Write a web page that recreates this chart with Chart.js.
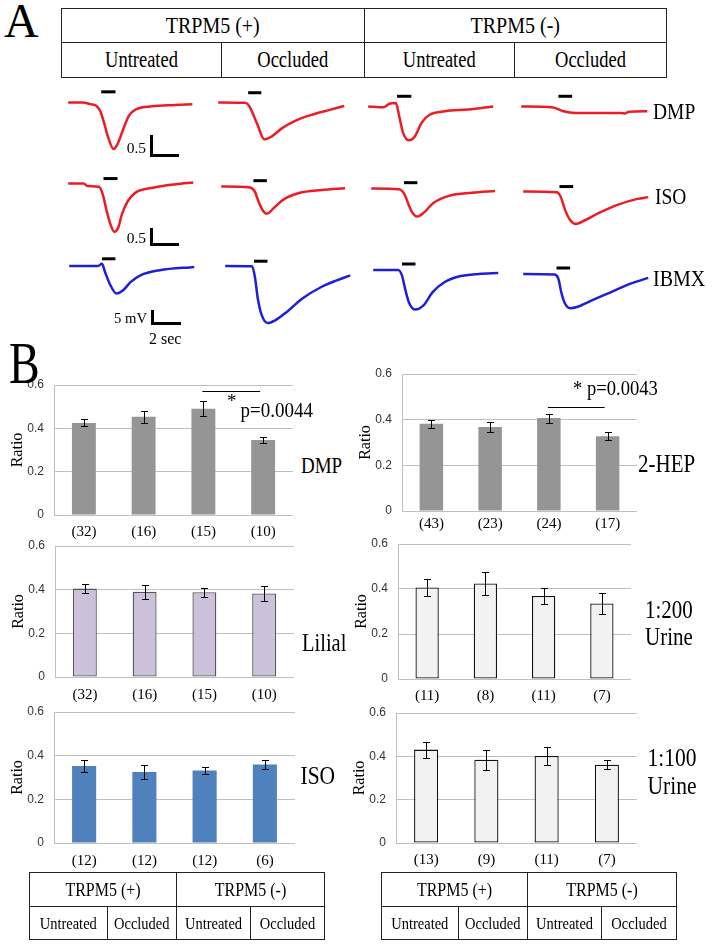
<!DOCTYPE html>
<html>
<head>
<meta charset="utf-8">
<script src="https://cdn.jsdelivr.net/npm/chart.js@4.4.1/dist/chart.umd.min.js"></script>
<style>
    body { margin: 0; background: #fff; }
    #page { position: relative; width: 712px; height: 945px; overflow: hidden; font-family: "Liberation Serif", serif; color: #000; }
    canvas { position: absolute; }
    .t { position: absolute; white-space: nowrap; }
    .t span, .cell span { display: inline-block; }
    .cell { position: absolute; box-sizing: border-box; border: 1px solid #222; display: flex; align-items: center; justify-content: center; }
    .scalebar { position: absolute; box-sizing: border-box; border-left: 3px solid #000; border-bottom: 3px solid #000; }
</style>
</head>
<body>
<div id="page"></div>
<script>
// ---------- Panel A: traces, [time (s), signal] ----------
// red rows in ratio units (0.5 scale bar), blue row in mV
const dmpPlusUntreated = [[0,0],[1.04,0],[1.59,-0.04],[2.0,-0.075],[2.28,-0.19],[2.55,-0.45],[2.82,-0.76],[3.24,-1.06],[3.52,-0.95],[3.93,-0.61],[4.34,-0.30],[4.89,-0.15],[5.99,-0.09],[7.64,-0.06],[8.87,-0.04]];
const dmpPlusOccluded = [[0,0],[1.92,-0.01],[2.2,-0.075],[2.47,-0.25],[2.81,-0.51],[3.29,-0.84],[3.79,-0.78],[4.54,-0.59],[5.49,-0.42],[6.59,-0.29],[7.96,-0.17],[9.0,-0.08]];
const dmpMinusUntreated = [[0,0],[1.09,-0.02],[1.51,0.06],[1.98,0.08],[2.2,-0.2],[2.47,-0.58],[2.88,-0.77],[3.29,-0.70],[3.84,-0.36],[4.39,-0.19],[5.49,-0.11],[7.14,-0.07],[8.93,0]];
const dmpMinusOccluded = [[0,0],[2.2,-0.02],[3.02,-0.11],[3.85,-0.15],[5.5,-0.15],[7.14,-0.15],[7.42,-0.16],[7.69,-0.12],[9.01,-0.11]];

const isoPlusUntreated = [[0,0],[1.1,0],[1.37,-0.06],[2.2,-0.075],[2.47,-0.25],[2.75,-0.63],[3.02,-0.93],[3.29,-1.10],[3.57,-1.01],[3.84,-0.70],[4.26,-0.40],[4.81,-0.21],[6.04,-0.10],[7.69,-0.02],[8.93,0.02]];
const isoPlusOccluded = [[0,0],[1.98,-0.02],[2.39,-0.11],[2.66,-0.34],[2.94,-0.53],[3.26,-0.62],[3.76,-0.49],[4.44,-0.30],[5.55,-0.15],[7.19,-0.08],[8.84,-0.04]];
const isoMinusUntreated = [[0,0],[1.98,-0.02],[2.39,-0.14],[2.66,-0.36],[2.94,-0.55],[3.3,-0.64],[3.76,-0.55],[4.44,-0.33],[5.55,-0.17],[7.19,-0.10],[8.84,-0.06]];
const isoMinusOccluded = [[0,0],[2.39,-0.02],[2.66,-0.11],[2.99,-0.42],[3.35,-0.65],[3.76,-0.74],[4.45,-0.65],[5.41,-0.49],[6.79,-0.30],[8.16,-0.17],[8.93,-0.13]];

const ibmxPlusUntreated = [[0,0],[2.06,0],[2.34,0.77],[2.56,-2.0],[2.89,-5.9],[3.38,-9.2],[3.85,-8.1],[4.4,-5.3],[5.09,-3.1],[6.46,-1.4],[8.93,-0.3]];
const ibmxPlusOccluded = [[0,0],[1.92,-0.1],[2.14,-4.2],[2.33,-10.9],[2.61,-16.4],[3.02,-19.0],[3.57,-18.1],[4.4,-15.3],[5.49,-10.9],[6.86,-7.0],[7.97,-4.8],[8.93,-3.1]];
const ibmxMinusUntreated = [[0,0],[1.79,0],[2.06,-1.9],[2.28,-6.3],[2.55,-10.8],[3.02,-13.2],[3.57,-11.9],[4.25,-7.4],[5.08,-4.1],[6.18,-2.1],[7.55,-1.3],[8.93,-1.0]];
const ibmxMinusOccluded = [[0,0],[2.25,-0.2],[2.52,-1.7],[2.72,-6.1],[2.94,-9.4],[3.35,-11.4],[3.9,-10.9],[4.86,-8.9],[6.24,-6.1],[7.61,-3.3],[8.93,-1.3]];

// stimulus bars: [on (s), off (s), level]
const dmpStim = [[2.36,3.38,0.24],[2.14,3.08,0.22],[2.06,3.08,0.23],[2.66,3.64,0.23]];
const isoStim = [[2.52,3.52,0.11],[2.3,3.26,0.13],[2.34,3.3,0.13],[2.59,3.57,0.11]];
const ibmxStim = [[2.34,3.3,2.4],[2.06,3.02,1.6],[2.06,3.02,2.0],[2.38,3.35,2.0]];

// ---------- Panel B: bar values ----------
const dmpMean = [0.425, 0.453, 0.49, 0.346];
const dmpErr = [0.016, 0.027, 0.035, 0.015];
const dmpN = ['(32)', '(16)', '(15)', '(10)'];

const lilialMean = [0.405, 0.39, 0.388, 0.383];
const lilialErr = [0.022, 0.032, 0.021, 0.033];
const lilialN = ['(32)', '(16)', '(15)', '(10)'];

const isoMean = [0.353, 0.325, 0.332, 0.36];
const isoErr = [0.029, 0.03, 0.014, 0.021];
const isoN = ['(12)', '(12)', '(12)', '(6)'];

const hepMean = [0.382, 0.368, 0.407, 0.327];
const hepErr = [0.017, 0.02, 0.02, 0.017];
const hepN = ['(43)', '(23)', '(24)', '(17)'];

const urine200Mean = [0.407, 0.425, 0.369, 0.336];
const urine200Err = [0.036, 0.052, 0.035, 0.048];
const urine200N = ['(11)', '(8)', '(11)', '(7)'];

const urine100Mean = [0.431, 0.384, 0.402, 0.361];
const urine100Err = [0.037, 0.047, 0.042, 0.02];
const urine100N = ['(13)', '(9)', '(11)', '(7)'];

const yTicks = [0, 0.2, 0.4, 0.6];

const page = document.getElementById("page");
const SERIF = "Liberation Serif";
const SANS = "Liberation Sans";

const addText = (text, x, y, size, opts = {}) => {
    const d = document.createElement("div");
    d.className = "t";
    d.style.fontSize = size + "px";
    d.style.lineHeight = size + "px";
    d.style.top = (y - size / 2) + "px";
    if (opts.right !== undefined) {
        d.style.right = (712 - opts.right) + "px";
    } else {
        d.style.left = x + "px";
    }
    d.innerHTML = `<span style="transform:scaleY(${opts.stretch || 1})">${text}</span>`;
    page.appendChild(d);
};

const addCell = (x0, x1, y0, y1, text, size, stretch) => {
    const d = document.createElement("div");
    d.className = "cell";
    d.style.left = x0 + "px";
    d.style.top = y0 + "px";
    d.style.width = (x1 - x0 + 1) + "px";
    d.style.height = (y1 - y0 + 1) + "px";
    d.innerHTML = `<span style="font-size:${size}px;transform:scaleY(${stretch})">${text}</span>`;
    page.appendChild(d);
};

const addTable = (x0, x1, y0, ym, y1, cols, big, small, stretch) => {
    const mid = cols[1];
    addCell(x0, mid, y0, ym, "TRPM5 (+)", big, stretch);
    addCell(mid, x1, y0, ym, "TRPM5 (-)", big, stretch);
    const xs = [x0, ...cols, x1];
    ["Untreated", "Occluded", "Untreated", "Occluded"].forEach((t, i) => {
        addCell(xs[i], xs[i + 1], ym, y1, t, small, stretch);
    });
};

const addCanvas = (left, top, w, h) => {
    const c = document.createElement("canvas");
    c.width = w;
    c.height = h;
    c.style.left = left + "px";
    c.style.top = top + "px";
    page.appendChild(c);
    return c;
};

// error bars + significance line, read from dataset
Chart.register({
    id: "errorBars",
    afterDatasetsDraw(chart) {
        const ds = chart.data.datasets[0];
        if (!ds.errors) return;
        const { ctx } = chart;
        const y = chart.scales.y;
        const x = chart.scales.x;
        const meta = chart.getDatasetMeta(0);
        ctx.save();
        ctx.strokeStyle = "#000";
        ctx.lineWidth = 1;
        meta.data.forEach((bar, i) => {
            const bx = Math.round(bar.x) + 0.5;
            const yt = Math.round(y.getPixelForValue(ds.data[i] + ds.errors[i])) + 0.5;
            const yb = Math.round(y.getPixelForValue(ds.data[i] - ds.errors[i])) + 0.5;
            ctx.beginPath();
            ctx.moveTo(bx, yt); ctx.lineTo(bx, yb);
            ctx.moveTo(bx - 3.5, yt); ctx.lineTo(bx + 3.5, yt);
            ctx.moveTo(bx - 3.5, yb); ctx.lineTo(bx + 3.5, yb);
            ctx.stroke();
        });
        if (ds.sig) {
            const sy = Math.round(y.getPixelForValue(ds.sig.value)) + 0.5;
            ctx.beginPath();
            ctx.moveTo(x.getPixelForValue(ds.sig.from) - 1, sy);
            ctx.lineTo(x.getPixelForValue(ds.sig.to) - 3, sy);
            ctx.stroke();
        }
        ctx.restore();
    }
});

// ---------- traces ----------
const PX_PER_SEC = 14;
const redRow = { ppu: 44, max: 0.35, h: 70, color: "#ec1c24" };
const blueRow = { ppu: 3, max: 4, h: 78, color: "#1f1fd8" };

const traceChart = (points, stim, originX, originY, row) => {
    const w = 140;
    const c = addCanvas(originX - 0.3 * PX_PER_SEC, originY - row.max * row.ppu, w, row.h);
    new Chart(c, {
        type: "scatter",
        data: {
            datasets: [
                {
                    data: points.map(p => ({ x: p[0], y: p[1] })),
                    showLine: true,
                    borderColor: row.color,
                    borderWidth: 2.5,
                    pointRadius: 0,
                    cubicInterpolationMode: "monotone"
                },
                {
                    data: [{ x: stim[0], y: stim[2] }, { x: stim[1], y: stim[2] }],
                    showLine: true,
                    borderColor: "#000",
                    borderWidth: 3,
                    pointRadius: 0
                }
            ]
        },
        options: {
            responsive: false,
            animation: false,
            devicePixelRatio: 1,
            layout: { padding: 0 },
            plugins: { legend: { display: false }, tooltip: { enabled: false } },
            scales: {
                x: { type: "linear", display: false, min: -0.3, max: -0.3 + w / PX_PER_SEC },
                y: { display: false, max: row.max, min: row.max - row.h / row.ppu }
            }
        }
    });
};

const rows = [
    { traces: [dmpPlusUntreated, dmpPlusOccluded, dmpMinusUntreated, dmpMinusOccluded], stim: dmpStim, row: redRow,
      origins: [[68.5, 102], [217.7, 102.7], [367.7, 106.3], [521.5, 106.3]] },
    { traces: [isoPlusUntreated, isoPlusOccluded, isoMinusUntreated, isoMinusOccluded], stim: isoStim, row: redRow,
      origins: [[67.7, 183.7], [220.8, 186.3], [370.8, 188.7], [522.7, 191.3]] },
    { traces: [ibmxPlusUntreated, ibmxPlusOccluded, ibmxMinusUntreated, ibmxMinusOccluded], stim: ibmxStim, row: blueRow,
      origins: [[69.6, 266], [225.4, 266], [373.5, 269.7], [522.7, 273.7]] }
];

rows.forEach(r => {
    r.traces.forEach((pts, i) => traceChart(pts, r.stim[i], r.origins[i][0], r.origins[i][1], r.row));
});

// ---------- bar charts ----------
const YW = 46, PT = 18, XH = 32, PR = 4;

const barChart = (box, labels, means, errs, look, nPad, sig) => {
    const w = YW + box.r - box.l + PR;
    const h = PT + box.bottom - box.top + XH;
    const c = addCanvas(box.l - YW, box.top - PT, w, h);
    new Chart(c, {
        type: "bar",
        data: {
            labels: labels,
            datasets: [{
                data: means,
                errors: errs,
                sig: sig,
                backgroundColor: look.fill,
                borderColor: look.border || look.fill,
                borderWidth: look.border ? 1.3 : 0,
                borderSkipped: false,
                barPercentage: 0.4,
                categoryPercentage: 1
            }]
        },
        options: {
            responsive: false,
            animation: false,
            devicePixelRatio: 1,
            layout: { padding: { top: PT, right: PR, left: 0, bottom: 0 } },
            plugins: { legend: { display: false }, tooltip: { enabled: false } },
            scales: {
                x: {
                    grid: { display: false, drawTicks: false },
                    border: { display: false },
                    ticks: { color: "#000", padding: nPad, font: { family: SERIF, size: 15 } },
                    afterFit: s => { s.height = XH; }
                },
                y: {
                    min: 0,
                    max: 0.6,
                    afterBuildTicks: s => { s.ticks = yTicks.map(v => ({ value: v })); },
                    ticks: {
                        color: "#333",
                        padding: 10,
                        font: { family: SANS, size: 12 },
                        callback: v => (v === 0 ? "0" : v.toFixed(1))
                    },
                    grid: { color: "#c0c0c0", drawTicks: false },
                    border: { display: true, color: "#c0c0c0" },
                    title: { display: true, text: "Ratio", color: "#000", padding: 0, font: { family: SERIF, size: 16 } },
                    afterFit: s => { s.width = YW; }
                }
            }
        }
    });
};

const gray = { fill: "#959595" };
barChart({ l: 54, r: 293, top: 385, bottom: 515 }, dmpN, dmpMean, dmpErr, gray, 8, { from: 2, to: 3, value: 0.574 });
barChart({ l: 55, r: 294, top: 545.7, bottom: 677.3 }, lilialN, lilialMean, lilialErr, { fill: "#ccc1da", border: "#555" }, 9);
barChart({ l: 53.5, r: 294.6, top: 711.7, bottom: 842.7 }, isoN, isoMean, isoErr, { fill: "#4f81bd" }, 9);
barChart({ l: 401.7, r: 636.7, top: 374, bottom: 511.7 }, hepN, hepMean, hepErr, gray, 4, { from: 2, to: 3, value: 0.457 });
barChart({ l: 398.3, r: 631.7, top: 544, bottom: 679 }, urine200N, urine200Mean, urine200Err, { fill: "#f2f2f2", border: "#111" }, 8);
barChart({ l: 396, r: 637, top: 713.3, bottom: 843.7 }, urine100N, urine100Mean, urine100Err, { fill: "#f2f2f2", border: "#111" }, 8);

// ---------- tables ----------
addTable(61, 666, 8, 42, 77, [221, 363.5, 514], 20, 18.5, 1.2);
addTable(29, 324, 872, 906, 939, [106.5, 176, 250], 16, 14.5, 1.15);
addTable(381, 676, 872, 906, 939, [457.6, 527, 601], 16, 14.5, 1.15);

// ---------- text labels ----------
addText("A", 4, 21, 48);
addText("B", 9, 363, 46, { stretch: 1.3 });

addText("DMP", 653, 112, 19.5, { stretch: 1.2 });
addText("ISO", 655, 197, 19.5, { stretch: 1.2 });
addText("IBMX", 653, 278, 20, { stretch: 1.2 });

addText("0.5", 0, 148, 15.5, { right: 146 });
addText("0.5", 0, 238, 15.5, { right: 146 });
addText("5 mV", 0, 318.5, 14.7, { right: 147 });
addText("2 sec", 149, 338.5, 16);

addText("DMP", 301, 464, 19, { stretch: 1.25 });
addText("2-HEP", 638, 464, 21, { stretch: 1.2 });
addText("Lilial", 302, 643.5, 20.5, { stretch: 1.2 });
addText("1:200", 645, 610, 21, { stretch: 1.2 });
addText("Urine", 645, 637.5, 21, { stretch: 1.2 });
addText("ISO", 300.5, 776.5, 21.5, { stretch: 1.2 });
addText("1:100", 647.5, 758.5, 21.5, { stretch: 1.2 });
addText("Urine", 647.5, 786.5, 21.5, { stretch: 1.2 });

addText("*", 227, 400, 19);
addText("p=0.0044", 240.5, 409, 19, { stretch: 1.15 });
addText("* p=0.0043", 573, 388.5, 18.6, { stretch: 1.15 });

// scale bars
const addScaleBar = (x, y0, y1, len) => {
    const d = document.createElement("div");
    d.className = "scalebar";
    d.style.left = x + "px";
    d.style.top = y0 + "px";
    d.style.width = len + "px";
    d.style.height = (y1 - y0) + "px";
    page.appendChild(d);
};
addScaleBar(150, 135, 157, 29);
addScaleBar(150, 228, 246, 29);
addScaleBar(151, 310, 325, 30);
</script>
</body>
</html>
